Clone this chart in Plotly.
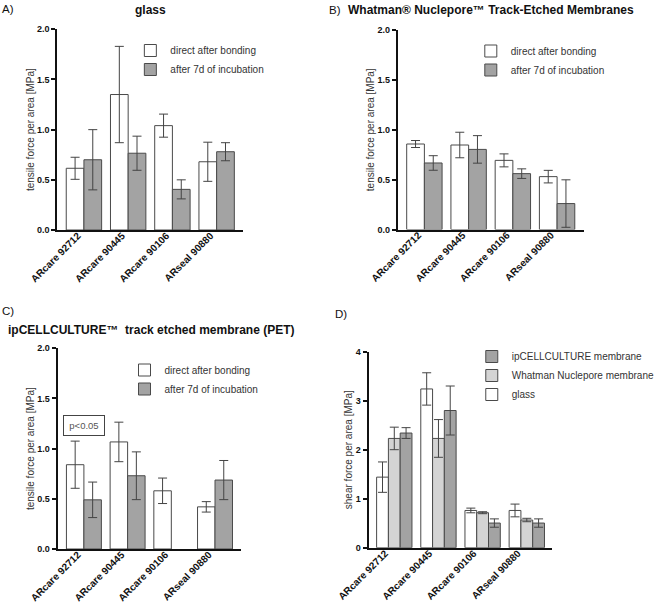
import plotly.graph_objects as go

categories = ["ARcare 92712", "ARcare 90445", "ARcare 90106", "ARseal 90880"]

# Panel A: glass
a_direct = [0.615, 1.35, 1.04, 0.68]
a_direct_err = [0.11, 0.48, 0.115, 0.195]
a_incub = [0.70, 0.765, 0.405, 0.78]
a_incub_err = [0.30, 0.17, 0.095, 0.09]

# Panel B: Whatman Nuclepore
b_direct = [0.857, 0.847, 0.693, 0.53]
b_direct_err = [0.035, 0.128, 0.065, 0.063]
b_incub = [0.667, 0.803, 0.56, 0.26]
b_incub_err = [0.073, 0.138, 0.048, 0.238]

# Panel C: ipCELLCULTURE
c_direct = [0.84, 1.067, 0.58, 0.42]
c_direct_err = [0.235, 0.197, 0.127, 0.052]
c_incub = [0.49, 0.73, None, 0.687]
c_incub_err = [0.177, 0.238, 0, 0.195]

# Panel D: shear force
d_glass = [1.44, 3.24, 0.76, 0.76]
d_glass_err = [0.31, 0.33, 0.048, 0.13]
d_whatman = [2.23, 2.23, 0.714, 0.565]
d_whatman_err = [0.23, 0.385, 0.02, 0.035]
d_ipcell = [2.34, 2.80, 0.503, 0.503]
d_ipcell_err = [0.11, 0.50, 0.085, 0.085]

FONT = "Liberation Sans, Arial, sans-serif"
OUTLINE = "#4a4a4a"
ERRC = "#444444"
GRAY = "#a3a3a3"
LIGHT = "#d4d4d4"

fig = go.Figure()

def bar(x_ax, y_ax, name, y, err, fill, legend, show=True):
    fig.add_trace(go.Bar(
        x=categories, y=y, name=name, xaxis=x_ax, yaxis=y_ax,
        marker=dict(color=fill, line=dict(color=OUTLINE, width=1)),
        error_y=dict(type="data", array=err, color=ERRC, thickness=1, width=4.5),
        legend=legend, showlegend=show,
    ))

bar("x", "y", "direct after bonding", a_direct, a_direct_err, "white", "legend")
bar("x", "y", "after 7d of incubation", a_incub, a_incub_err, GRAY, "legend")
bar("x2", "y2", "direct after bonding", b_direct, b_direct_err, "white", "legend2")
bar("x2", "y2", "after 7d of incubation", b_incub, b_incub_err, GRAY, "legend2")
bar("x3", "y3", "direct after bonding", c_direct, c_direct_err, "white", "legend3")
bar("x3", "y3", "after 7d of incubation", c_incub, c_incub_err, GRAY, "legend3")
bar("x4", "y4", "glass", d_glass, d_glass_err, "white", "legend4")
bar("x4", "y4", "Whatman Nuclepore membrane", d_whatman, d_whatman_err, LIGHT, "legend4")
bar("x4", "y4", "ipCELLCULTURE membrane", d_ipcell, d_ipcell_err, GRAY, "legend4")

def xaxis(domain, anchor, rng, shift=-6):
    return dict(domain=domain, anchor=anchor, type="category", range=rng,
                showline=True, linewidth=2, linecolor="#111", ticks="",
                tickangle=-45, tickfont=dict(family=FONT, size=10, color="#111", weight="bold"),
                ticklabelshift=shift, ticklabelstandoff=-6,
                showgrid=False, zeroline=False, fixedrange=True, automargin=False)

def yaxis(domain, anchor, rng, dtick, fmt, title):
    return dict(domain=domain, anchor=anchor, range=rng, dtick=dtick, tickformat=fmt,
                showline=True, linewidth=2, linecolor="#111", ticks="outside",
                ticklen=4, tickwidth=2, tickcolor="#111",
                tickfont=dict(family=FONT, size=9, color="#111", weight="bold"),
                title=dict(text=title, font=dict(family=FONT, size=10, color="#333"), standoff=1),
                showgrid=False, zeroline=False, fixedrange=True, automargin=False)

W, H = 660, 608
def px(x): return x / W
def py(y): return 1 - y / H

ttl = "tensile force per area [MPa]"
leg_font = dict(family=FONT, size=10, color="#333")
leg_common = dict(font=leg_font, bgcolor="rgba(0,0,0,0)", itemwidth=30, tracegroupgap=0,
                  xanchor="left", yanchor="top", itemclick=False, itemdoubleclick=False)

fig.update_layout(
    width=W, height=H, autosize=False,
    margin=dict(l=0, r=0, t=0, b=0, pad=0),
    paper_bgcolor="white", plot_bgcolor="white",
    barmode="group", bargap=0.2, bargroupgap=0,
    font=dict(family=FONT),
    xaxis=xaxis([px(59), px(250)], "y", [-0.6, 3.6]),
    yaxis=yaxis([py(230), py(29.3)], "x", [0, 2.0], 0.5, ".1f", ttl),
    xaxis2=xaxis([px(409), px(600)], "y2", [-0.6, 3.6]),
    yaxis2=yaxis([py(229.5), py(30)], "x2", [0, 2.0], 0.5, ".1f", ttl),
    xaxis3=xaxis([px(59.3), px(248)], "y3", [-0.6, 3.6]),
    yaxis3=yaxis([py(549), py(348.3)], "x3", [0, 2.0], 0.5, ".1f", ttl),
    xaxis4=xaxis([px(379), px(567)], "y4", [-0.58, 3.56], shift=-9),
    yaxis4=yaxis([py(547.7), py(351.7)], "x4", [0, 4], 1, "d", "shear force per area [MPa]"),
    legend=dict(x=px(134), y=py(36), traceorder="normal", **leg_common),
    legend2=dict(x=px(484), y=py(36.5), traceorder="normal", **leg_common),
    legend3=dict(x=px(128), y=py(355.5), traceorder="normal", **leg_common),
    legend4=dict(x=px(485), y=py(342), traceorder="reversed", **leg_common),
)

def ann(text, x, y, size=11, bold=False, xanchor="center"):
    fig.add_annotation(text=text, x=px(x), y=py(y), xref="paper", yref="paper",
                       showarrow=False, xanchor=xanchor, yanchor="middle",
                       font=dict(family=FONT, size=size, color="#111",
                                 weight="bold" if bold else "normal"))

ann("A)", 0, 9, size=11.5, xanchor="left")
ann("B)", 336, 10, size=11.5, xanchor="left")
ann("C)", 0, 311, size=11.5, xanchor="left")
ann("D)", 342, 314, size=11.5, xanchor="left")
ann("glass", 155, 10, size=12, bold=True)
ann("Whatman® Nuclepore™ Track-Etched Membranes", 505, 10, size=12, bold=True)
ann("ipCELLCULTURE™  track etched membrane (PET)", 155.5, 330, size=12, bold=True)

fig.add_annotation(text="p<0.05", x="ARcare 92712", y=1.23, xref="x3", yref="y3",
                   showarrow=False, xanchor="center", yanchor="middle",
                   font=dict(family=FONT, size=9.5, color="#555"),
                   bordercolor="#444", borderwidth=1, borderpad=3, width=34, height=13,
                   bgcolor="white")

fig.write_html("out.html", config={"displayModeBar": False, "staticPlot": True},
               post_script="document.body.style.margin='0';document.body.style.overflow='hidden';")
